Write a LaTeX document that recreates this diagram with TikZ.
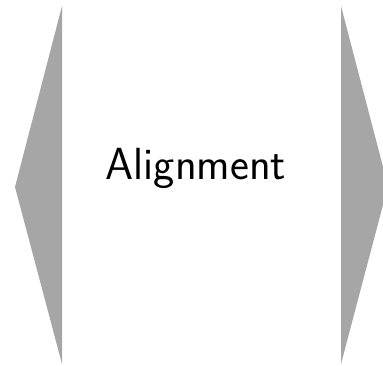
\documentclass[tikz,border=0pt]{standalone}
\usepackage{tikz}
\usetikzlibrary{positioning}
\definecolor{wedgegray}{HTML}{A6A6A6}

\begin{document}
\begin{tikzpicture}[x=1pt,y=-1pt]
\useasboundingbox (0,0) rectangle (383,365);
\fill[wedgegray] (62,6) -- (15,187) -- (62,364) -- cycle;
\fill[wedgegray] (341,6) -- (388,186) -- (341,364) -- cycle;

\node[font=\sffamily\fontsize{45}{50}\selectfont] (title) at (196,168) {Alignment};
\end{tikzpicture}
\end{document}
